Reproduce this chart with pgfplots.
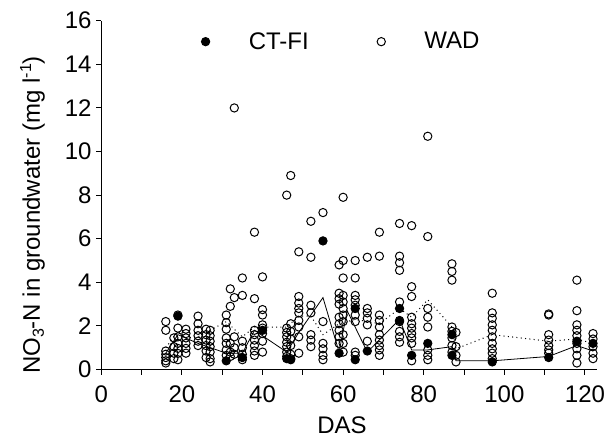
\documentclass[border=0pt]{standalone}
\usepackage{pgfplots}
\pgfplotsset{compat=1.18}
\usepackage{pgfplotstable}
\usepackage{fontspec}
\setmainfont{Liberation Sans}

% WAD wells: one row per sample (DAS, nitrate-N)
\pgfplotstableread{
das no3
16 2.2
16 1.8
16 0.85
16 0.7
16 0.55
16 0.4
16 0.3
18 1.45
18 1.05
18 0.75
18 0.5
19 2.5
19 1.9
19 1.5
19 1.2
19 0.97
19 0.74
19 0.45
21 1.85
21 1.65
21 1.45
21 1.2
21 0.97
21 0.75
24 2.45
24 2.1
24 1.8
24 1.55
24 1.3
24 1.1
26 1.85
26 1.6
26 1.35
26 1.1
26 0.85
26 0.55
27 1.8
27 1.55
27 1.3
27 1.05
27 0.8
27 0.5
27 0.35
31 2.5
31 2.15
31 1.85
31 1.45
31 1.2
31 0.9
31 0.65
32 3.7
32 2.9
32 1.2
32 0.8
32 0.6
33 12.0
33 3.3
33 1.5
33 1.0
33 0.7
35 4.2
35 3.4
35 1.3
35 1.0
35 0.7
35 0.45
38 6.3
38 3.25
38 1.8
38 1.6
38 1.35
38 1.1
38 0.85
38 0.65
40 4.25
40 2.75
40 2.5
40 2.05
40 1.9
40 1.65
40 1.3
40 0.8
46 8.0
46 1.9
46 1.7
46 1.5
46 1.25
46 1.05
46 0.8
46 0.6
47 8.9
47 2.1
47 1.75
47 1.4
47 1.1
47 0.7
47 0.5
49 5.4
49 3.35
49 3.05
49 2.8
49 2.6
49 2.25
49 1.95
49 1.5
49 0.75
52 6.8
52 5.15
52 2.95
52 2.6
52 1.6
52 1.35
52 1.05
55 7.2
55 2.2
55 1.2
55 0.95
55 0.65
55 0.45
59 4.8
59 3.5
59 3.25
59 3.0
59 2.4
59 2.1
59 1.8
59 1.5
59 1.2
60 7.9
60 5.0
60 4.2
60 3.4
60 3.1
60 2.8
60 2.5
60 2.2
60 1.6
60 1.2
60 0.8
63 5.0
63 4.2
63 3.4
63 3.2
63 2.95
63 2.5
63 2.2
63 0.8
63 0.65
66 5.15
66 2.8
66 2.6
66 2.35
66 2.05
66 1.3
69 6.3
69 5.2
69 2.5
69 2.25
69 1.95
69 1.6
69 1.35
69 1.1
69 0.9
69 0.65
74 6.7
74 5.2
74 4.9
74 4.55
74 3.1
74 2.2
74 1.75
74 1.5
74 1.25
77 6.6
77 3.8
77 3.35
77 2.4
77 2.1
77 1.9
77 1.65
77 1.45
77 1.2
77 0.4
81 10.7
81 6.1
81 2.8
81 2.4
81 1.95
81 0.9
81 0.65
81 0.45
87 4.85
87 4.5
87 4.1
87 1.95
87 1.75
87 1.45
87 1.1
87 0.8
88 1.7
88 1.05
88 0.65
88 0.35
97 3.5
97 2.6
97 2.35
97 2.05
97 1.8
97 1.5
97 1.2
97 0.95
97 0.75
97 0.5
111 2.55
111 2.5
111 1.6
111 1.35
111 1.1
111 0.9
111 0.75
118 4.1
118 2.7
118 2.05
118 1.8
118 1.55
118 1.2
118 0.95
118 0.65
118 0.3
122 1.65
122 1.4
122 1.05
122 0.75
122 0.5
}\wadtable

% CT-FI wells
\pgfplotstableread{
das no3
19 2.45
31 0.4
35 0.55
40 1.8
46 0.5
47 0.45
55 5.9
59 0.75
63 2.8
63 0.45
66 0.85
74 2.8
74 2.25
77 0.65
81 1.2
87 1.6
87 0.65
97 0.35
111 0.55
118 1.3
122 1.2
}\ctfitable

% sampling-date means
\pgfplotstableread{
das no3
16 0.75
19 1.6
24 1.2
31 0.75
35 0.75
38 1.8
46 0.8
49 1.7
55 3.3
59 0.8
61 2.7
66 0.8
74 2.3
77 0.9
81 0.9
87 1.05
88 0.4
97 0.4
111 0.6
118 1.1
122 0.85
}\ctfimean

\pgfplotstableread{
das no3
16 1.0
19 1.75
21 1.45
24 1.5
31 2.2
35 1.5
38 1.95
46 1.95
49 2.45
52 2.45
55 1.6
59 2.1
63 2.3
66 2.2
69 2.1
74 2.8
77 2.4
81 3.2
87 1.95
88 0.95
97 1.6
111 1.3
118 1.4
122 1.2
}\wadmean

\newcommand\labfont{\fontsize{18}{21.6}\selectfont}

\begin{document}
\begin{tikzpicture}
\path[use as bounding box] (0,0) rectangle (454.5pt,329.25pt);
\begin{axis}[
  at={(75.98pt,52.1pt)}, anchor=south west,
  scale only axis, width=371.8pt, height=261.6pt,
  xmin=0, xmax=123, ymin=0, ymax=16,
  axis x line*=bottom, axis y line*=left,
  axis line style={-, line width=0.75pt},
  xtick={0,20,...,120}, ytick={0,2,...,16},
  minor x tick num=1,
  tick align=outside,
  major tick length=3.75pt, minor tick length=3.75pt,
  tick style={line width=0.75pt, black},
  ticklabel style={font=\labfont},
  xticklabel style={yshift=-4.5pt},
  /pgf/number format/assume math mode=true,
  clip=false,
  legend columns=2,
  legend style={draw=none, fill=none, font=\labfont,
    at={(axis description cs:0.19,0.94)}, anchor=west,
    /tikz/every even column/.append style={column sep=48pt}},
  legend image code/.code={\draw[#1] plot coordinates {(0pt,0pt)}; \path (-4pt,0pt) (30pt,0pt);},
]
\addplot[only marks, mark=*, mark size=3.1pt, black, fill=black, line width=0.75pt] table[x=das,y=no3] {\ctfitable};
\addlegendentry{CT-FI}
\addplot[only marks, mark=o, mark size=3.1pt, black, line width=0.75pt] table[x=das,y=no3] {\wadtable};
\addlegendentry{WAD}
\addplot[black, line width=0.6pt, forget plot] table[x=das,y=no3] {\ctfimean};
\addplot[black, line width=0.75pt, dash pattern=on 0.75pt off 2.5pt, forget plot] table[x=das,y=no3] {\wadmean};
% axis titles
\node[anchor=base, font=\labfont] at (axis description cs:0.4856,-0.182) {DAS};
\node[anchor=base, rotate=90, font=\labfont] at (axis description cs:-0.1237,0.443)
  {NO\raisebox{-0.3ex}{\fontsize{12}{14}\selectfont 3}-N in groundwater (mg l\raisebox{0.7ex}{\fontsize{12}{14}\selectfont -1})};
\end{axis}
\end{tikzpicture}
\end{document}
